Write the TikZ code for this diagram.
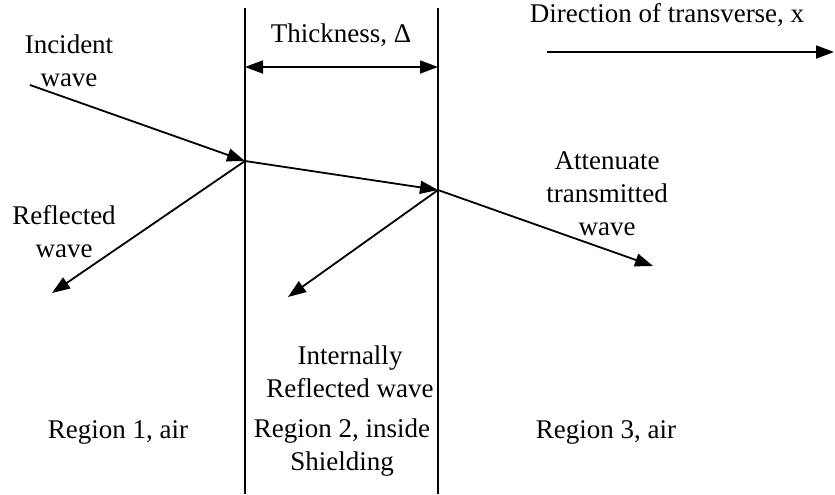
\documentclass[tikz,border=0pt]{standalone}
\usepackage{fontspec}
\setmainfont{Liberation Serif}
\usepackage{tikz}
\usetikzlibrary{arrows.meta, positioning, calc}

\tikzset{
  tip/.tip={Triangle[length=9pt,width=6.5pt]},
  wave/.style={line width=0.9pt, -tip},
  lbl/.style={align=center, inner sep=0pt, font=\fontsize{13.5}{16.5}\selectfont}
}

\begin{document}
\begin{tikzpicture}[x=0.5pt,y=-0.5pt]
  \useasboundingbox (0,0) rectangle (835,494);

  % shield boundaries
  \coordinate (L1) at (245,8);
  \coordinate (L2) at (245,494);
  \coordinate (R1) at (438,8);
  \coordinate (R2) at (438,494);
  \draw[line width=0.9pt] (L1) -- (L2);
  \draw[line width=0.9pt] (R1) -- (R2);

  % thickness and direction
  \coordinate (TL) at (245,67);
  \coordinate (TR) at (438,67);
  \draw[wave, tip-tip] (TL) -- (TR);
  \node[lbl] (thick) at (341,35) {Thickness, Δ};
  \coordinate (DA) at (547,52);
  \coordinate (DB) at (834,52);
  \draw[wave] (DA) -- (DB);
  \node[lbl] (dir) at (667,15) {Direction of transverse, x};

  % waves
  \coordinate (inc) at (30,85);
  \coordinate (P1) at (245,161);
  \coordinate (P2) at (438,190);
  \coordinate (refl) at (52,293);
  \coordinate (irefl) at (288,297);
  \coordinate (trans) at (653,266);
  \draw[wave] (inc) -- (P1);
  \draw[wave] (P1) -- (refl);
  \draw[wave] (P1) -- (P2);
  \draw[wave] (P2) -- (irefl);
  \draw[wave] (P2) -- (trans);

  \node[lbl] (incl) at (69,61) {Incident\\wave};
  \node[lbl] (refll) at (64,232) {Reflected\\wave};
  \node[lbl] (irefll) at (350,372) {Internally\\Reflected wave};
  \node[lbl] (transl) at (607,194) {Attenuate\\transmitted\\wave};

  % regions
  \node[lbl] (reg1) at (118,432) {Region 1, air};
  \node[lbl] (reg2) at (342,448) {Region 2, inside\\Shielding};
  \node[lbl] (reg3) at (606,432) {Region 3, air};
\end{tikzpicture}
\end{document}
